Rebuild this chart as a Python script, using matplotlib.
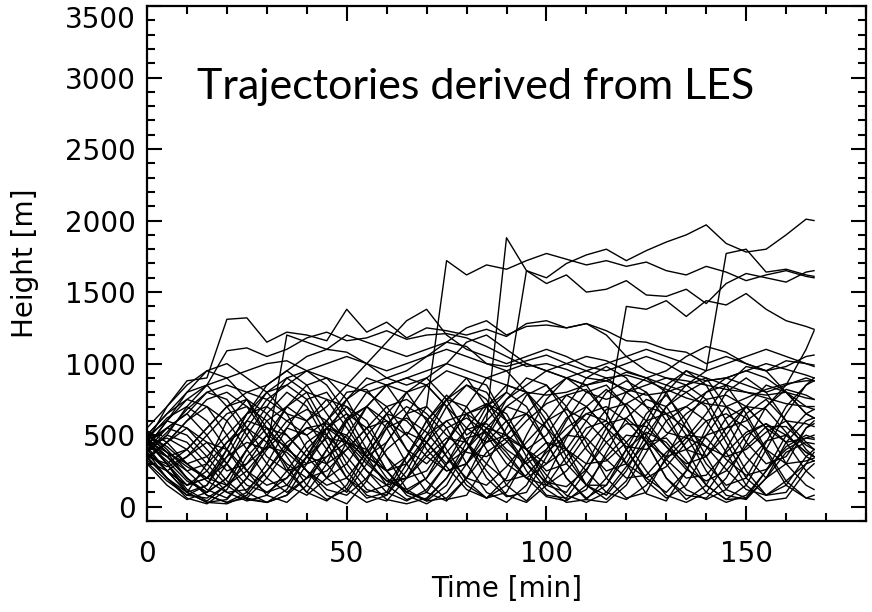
import matplotlib
matplotlib.use("Agg")
import matplotlib.pyplot as plt
from matplotlib.ticker import MultipleLocator

# time axis [min]
time = [0, 5, 10, 15, 20, 25, 30, 35, 40, 45, 50, 55, 60, 65, 70, 75, 80, 85,
        90, 95, 100, 105, 110, 115, 120, 125, 130, 135, 140, 145, 150, 155,
        160, 165, 167]

# heights [m] (approx.)
# upper trajectories
ua = [450, 700, 880, 900, 1310, 1320, 1150, 1220, 1200, 1160, 1380, 1220, 1290, 1180,
      1250, 1230, 1200, 1240, 1190, 1280, 1300, 1250, 1280, 1230, 1160, 1150, 1100, 1080,
      1000, 1050, 1000, 950, 1020, 1000, 980]
ub = [500, 650, 750, 850, 1090, 1110, 1050, 1100, 1180, 1220, 1160, 1180, 1230, 1170,
      1200, 1210, 1180, 1120, 1050, 980, 1000, 960, 900, 880, 940, 900, 850, 800,
      880, 900, 850, 800, 850, 900, 880]
uc = [400, 250, 150, 200, 350, 450, 400, 1200, 1150, 1100, 1200, 1150, 1100, 1050,
      1100, 1150, 1120, 1000, 950, 1000, 950, 900, 850, 880, 820, 780, 800, 850,
      900, 850, 800, 780, 800, 760, 750]
t1 = [420, 250, 100, 300, 600, 750, 500, 250, 100, 300, 600, 800, 700, 500,
      700, 1720, 1620, 1690, 1660, 1720, 1770, 1730, 1690, 1720, 1680, 1710, 1650, 1620,
      1680, 1640, 1580, 1620, 1650, 1610, 1600]
t2 = [380, 200, 80, 150, 400, 650, 800, 650, 400, 200, 100, 300, 550, 800,
      900, 750, 500, 600, 1880, 1650, 1600, 1700, 1760, 1800, 1720, 1790, 1850, 1900,
      1970, 1840, 1780, 1800, 1900, 2010, 2000]
t3 = [350, 450, 600, 700, 600, 400, 200, 100, 200, 400, 600, 700, 600, 400,
      300, 450, 650, 700, 800, 1650, 1560, 1620, 1500, 1520, 1580, 1480, 1470, 1520,
      1420, 1560, 1630, 1600, 1570, 1640, 1650]
t4 = [480, 350, 200, 100, 200, 400, 550, 500, 350, 200, 300, 500, 650, 600,
      450, 300, 400, 600, 750, 850, 950, 900, 800, 750, 800, 850, 900, 850,
      950, 1770, 1800, 1640, 1660, 1620, 1610]
t5 = [330, 450, 550, 450, 300, 150, 100, 200, 400, 550, 500, 350, 250, 300,
      450, 600, 650, 550, 400, 300, 400, 550, 650, 600, 1400, 1380, 1440, 1330,
      1440, 1410, 1490, 1380, 1300, 1260, 1240]
t6 = [460, 380, 300, 350, 500, 650, 700, 600, 500, 600, 750, 850, 900, 950,
      1050, 1150, 1250, 1300, 1200, 1260, 1270, 1250, 1280, 1200, 1050, 950, 900, 880,
      850, 820, 800, 760, 720, 700, 700]

# mid-level trajectories
m1 = [420, 600, 800, 950, 1000, 900, 800, 850, 950, 1000, 1050, 1000, 950, 1000,
      1050, 1100, 1050, 1000, 980, 1020, 1060, 1000, 950, 1000, 1050, 1100, 1050, 1000,
      950, 1000, 1050, 1100, 1050, 1000, 990]
m2 = [380, 500, 700, 850, 900, 950, 1000, 1020, 950, 900, 850, 800, 850, 900,
      950, 1000, 950, 900, 850, 800, 780, 800, 850, 900, 920, 880, 820, 760,
      720, 700, 760, 820, 860, 880, 880]
m3 = [460, 550, 650, 800, 850, 800, 850, 950, 1050, 1100, 1080, 1000, 900, 850,
      900, 1000, 1150, 1200, 1100, 1000, 950, 1000, 1050, 1020, 950, 900, 950, 1050,
      1120, 1080, 1000, 950, 980, 1050, 1060]
m4 = [350, 300, 400, 550, 700, 800, 750, 650, 600, 700, 850, 1000, 1150, 1300,
      1380, 1200, 1100, 1050, 1000, 1050, 1100, 1050, 980, 950, 1000, 1050, 1000, 920,
      880, 900, 950, 1000, 960, 920, 900]
e1 = [440, 320, 180, 100, 200, 400, 600, 700, 600, 400, 200, 100, 150, 350,
      600, 750, 700, 500, 300, 200, 300, 500, 650, 700, 600, 450, 350, 400,
      500, 550, 600, 700, 850, 1100, 1230]

# lower, oscillating trajectories
l01 = [450, 300, 120, 40, 150, 400, 650, 800, 700, 450, 200, 60, 100, 350,
       600, 780, 650, 400, 150, 40, 200, 480, 700, 820, 700, 450, 200, 50,
       150, 400, 650, 750, 600, 400, 350]
l02 = [400, 550, 650, 500, 300, 100, 30, 80, 300, 550, 700, 600, 350, 120,
       40, 150, 400, 650, 800, 700, 450, 200, 60, 150, 400, 650, 780, 600,
       350, 120, 60, 250, 500, 650, 680]
l03 = [350, 200, 60, 20, 120, 350, 500, 420, 250, 80, 20, 180, 450, 650,
       700, 550, 300, 100, 30, 150, 400, 620, 700, 550, 300, 90, 40, 250,
       500, 700, 620, 380, 150, 60, 80]
l04 = [500, 650, 800, 850, 700, 500, 300, 150, 80, 200, 450, 700, 850, 800,
       600, 350, 150, 60, 200, 500, 750, 900, 850, 650, 400, 200, 100, 250,
       550, 800, 900, 800, 600, 450, 400]
l05 = [300, 150, 50, 100, 300, 550, 750, 850, 750, 500, 250, 80, 40, 200,
       450, 700, 850, 750, 500, 250, 80, 60, 250, 500, 720, 800, 650, 400,
       150, 50, 150, 400, 650, 850, 900]
l06 = [480, 350, 200, 80, 30, 100, 300, 550, 750, 800, 600, 350, 150, 50,
       100, 300, 550, 720, 650, 400, 180, 50, 120, 380, 620, 750, 700, 500,
       250, 80, 50, 200, 450, 600, 620]
l07 = [420, 600, 750, 700, 500, 250, 80, 30, 150, 400, 620, 700, 550, 300,
       100, 40, 200, 480, 700, 800, 650, 400, 150, 50, 180, 450, 700, 850,
       750, 500, 250, 80, 100, 300, 380]
l08 = [380, 250, 150, 250, 450, 600, 550, 350, 150, 50, 120, 350, 580, 700,
       620, 400, 180, 60, 100, 350, 600, 780, 820, 650, 400, 180, 60, 150,
       400, 620, 700, 550, 300, 150, 120]
l09 = [520, 400, 250, 120, 60, 200, 450, 700, 850, 900, 750, 500, 250, 100,
       50, 200, 450, 700, 850, 800, 600, 350, 150, 80, 250, 500, 700, 800,
       700, 450, 200, 80, 150, 350, 400]
l10 = [460, 300, 100, 30, 50, 200, 400, 550, 500, 300, 120, 30, 80, 300,
       500, 600, 450, 250, 80, 30, 150, 350, 550, 600, 450, 250, 80, 30,
       100, 300, 500, 580, 450, 250, 200]
l11 = [330, 450, 600, 750, 800, 700, 500, 280, 100, 40, 150, 400, 650, 800,
       850, 700, 450, 200, 70, 100, 350, 600, 800, 850, 700, 450, 200, 80,
       60, 200, 450, 700, 820, 780, 750]
l12 = [500, 380, 280, 200, 150, 250, 420, 600, 680, 600, 420, 250, 150, 200,
       380, 550, 620, 520, 350, 200, 150, 250, 420, 580, 620, 500, 330, 200,
       220, 380, 520, 580, 500, 380, 350]
l13 = [440, 550, 500, 350, 180, 60, 30, 120, 350, 600, 800, 820, 650, 400,
       180, 50, 80, 300, 550, 780, 850, 700, 450, 200, 60, 100, 350, 600,
       800, 850, 650, 400, 180, 60, 50]
l14 = [360, 280, 350, 500, 650, 700, 600, 420, 250, 150, 200, 380, 550, 620,
       520, 350, 200, 150, 280, 450, 600, 680, 600, 450, 300, 200, 280, 450,
       600, 650, 550, 400, 300, 320, 340]
l15 = [550, 700, 850, 950, 900, 750, 550, 400, 300, 350, 500, 700, 850, 900,
       850, 700, 550, 450, 500, 650, 800, 900, 950, 900, 800, 700, 650, 700,
       800, 900, 950, 900, 800, 700, 680]
l16 = [400, 250, 100, 30, 20, 80, 250, 450, 550, 500, 350, 180, 50, 20,
       60, 200, 400, 550, 500, 300, 120, 30, 50, 200, 400, 520, 450, 280,
       100, 30, 80, 250, 420, 500, 480]
l17 = [470, 620, 700, 600, 400, 200, 100, 150, 350, 550, 650, 550, 350, 200,
       250, 450, 650, 720, 600, 400, 250, 300, 500, 680, 720, 600, 420, 300,
       350, 550, 700, 680, 520, 350, 320]
l18 = [310, 180, 80, 60, 150, 300, 420, 380, 250, 120, 80, 200, 400, 520,
       450, 280, 120, 60, 150, 320, 450, 400, 250, 100, 50, 150, 330, 480,
       420, 260, 120, 80, 180, 300, 320]
l19 = [530, 450, 300, 200, 300, 500, 700, 900, 950, 850, 650, 400, 200, 100,
       200, 450, 700, 900, 950, 800, 550, 300, 150, 150, 350, 600, 850, 950,
       850, 600, 350, 200, 300, 550, 600]
l20 = [420, 350, 400, 550, 700, 750, 650, 500, 350, 300, 400, 550, 700, 750,
       650, 500, 380, 350, 450, 600, 720, 780, 700, 550, 420, 400, 500, 650,
       750, 780, 700, 550, 450, 480, 500]
l21 = [380, 500, 450, 300, 150, 50, 30, 80, 200, 350, 450, 400, 250, 100,
       40, 60, 200, 380, 480, 400, 220, 80, 30, 100, 280, 450, 480, 320,
       150, 50, 60, 200, 380, 450, 440]
l22 = [490, 600, 550, 400, 250, 300, 500, 700, 800, 750, 550, 350, 250, 350,
       550, 750, 850, 800, 600, 400, 300, 400, 600, 800, 880, 800, 600, 400,
       350, 500, 700, 850, 800, 650, 620]
l23 = [340, 200, 100, 150, 350, 600, 800, 900, 800, 550, 300, 120, 80, 250,
       500, 750, 900, 850, 600, 350, 150, 100, 300, 550, 800, 900, 800, 550,
       300, 150, 200, 450, 700, 850, 880]
l24 = [450, 350, 250, 300, 450, 550, 450, 300, 200, 250, 400, 550, 600, 500,
       350, 250, 300, 450, 600, 650, 550, 400, 300, 320, 450, 600, 650, 550,
       420, 350, 400, 520, 600, 580, 560]
l25 = [510, 380, 200, 80, 30, 60, 200, 400, 600, 750, 700, 500, 250, 80,
       20, 100, 300, 550, 700, 650, 450, 200, 50, 30, 150, 380, 600, 700,
       600, 380, 150, 40, 60, 250, 300]
l26 = [430, 480, 400, 250, 100, 40, 80, 250, 450, 550, 450, 250, 100, 40,
       120, 300, 480, 520, 380, 200, 70, 40, 150, 350, 500, 480, 300, 120,
       50, 120, 300, 460, 500, 380, 350]
l27 = [390, 520, 680, 800, 750, 550, 350, 250, 300, 500, 750, 900, 850, 650,
       400, 250, 300, 500, 750, 900, 850, 650, 400, 250, 300, 550, 800, 950,
       900, 700, 450, 300, 350, 550, 580]
l28 = [470, 300, 150, 200, 400, 650, 850, 950, 850, 650, 450, 350, 450, 650,
       850, 950, 900, 700, 500, 400, 500, 700, 900, 980, 900, 700, 520, 480,
       650, 850, 980, 950, 800, 650, 620]
l29 = [320, 250, 350, 450, 400, 250, 150, 200, 350, 480, 450, 300, 180, 200,
       350, 480, 450, 300, 180, 220, 380, 500, 480, 330, 200, 220, 380, 500,
       480, 330, 220, 260, 400, 480, 470]
l30 = [500, 420, 300, 180, 100, 120, 250, 420, 550, 580, 480, 320, 180, 120,
       200, 380, 540, 580, 460, 300, 170, 140, 260, 450, 580, 560, 420, 260,
       180, 250, 420, 560, 560, 430, 400]

heights = [ua, ub, uc, t1, t2, t3, t4, t5, t6, m1, m2, m3, m4, e1,
           l01, l02, l03, l04, l05, l06, l07, l08, l09, l10, l11, l12, l13, l14, l15,
           l16, l17, l18, l19, l20, l21, l22, l23, l24, l25, l26, l27, l28, l29, l30]

fig = plt.figure(figsize=(8.72, 6.12), dpi=100)
ax = fig.add_axes([0.1686, 0.1487, 0.8245, 0.8415])

for h in heights:
    ax.plot(time, h, color="black", lw=1.0, solid_joinstyle="round")

ax.set_xlim(0, 180)
ax.set_ylim(-100, 3500)
ax.set_xticks([0, 50, 100, 150])
ax.set_yticks(range(0, 3501, 500))
ax.xaxis.set_minor_locator(MultipleLocator(10))
ax.yaxis.set_minor_locator(MultipleLocator(100))
ax.tick_params(which="both", direction="in", top=True, right=True,
               width=1.5, labelsize=20)
ax.tick_params(which="major", length=11)
ax.tick_params(which="minor", length=6)
ax.tick_params(axis="x", pad=14)
ax.tick_params(axis="y", pad=8)
for s in ax.spines.values():
    s.set_linewidth(1.6)

# top label sits inside the figure like in the original
fig.canvas.draw()
ax.get_yticklabels()[-1].set_verticalalignment("top")

ax.set_xlabel("Time [min]", fontsize=20)
ax.set_ylabel("Height [m]", fontsize=20)
ax.xaxis.set_label_coords(0.5, -0.105)
ax.yaxis.set_label_coords(-0.15, 0.5)

ax.text(12.5, 2850, "Trajectories derived from LES", fontsize=31,
        family="Lato", ha="left", va="baseline")

fig.savefig("out.png", dpi=100)
